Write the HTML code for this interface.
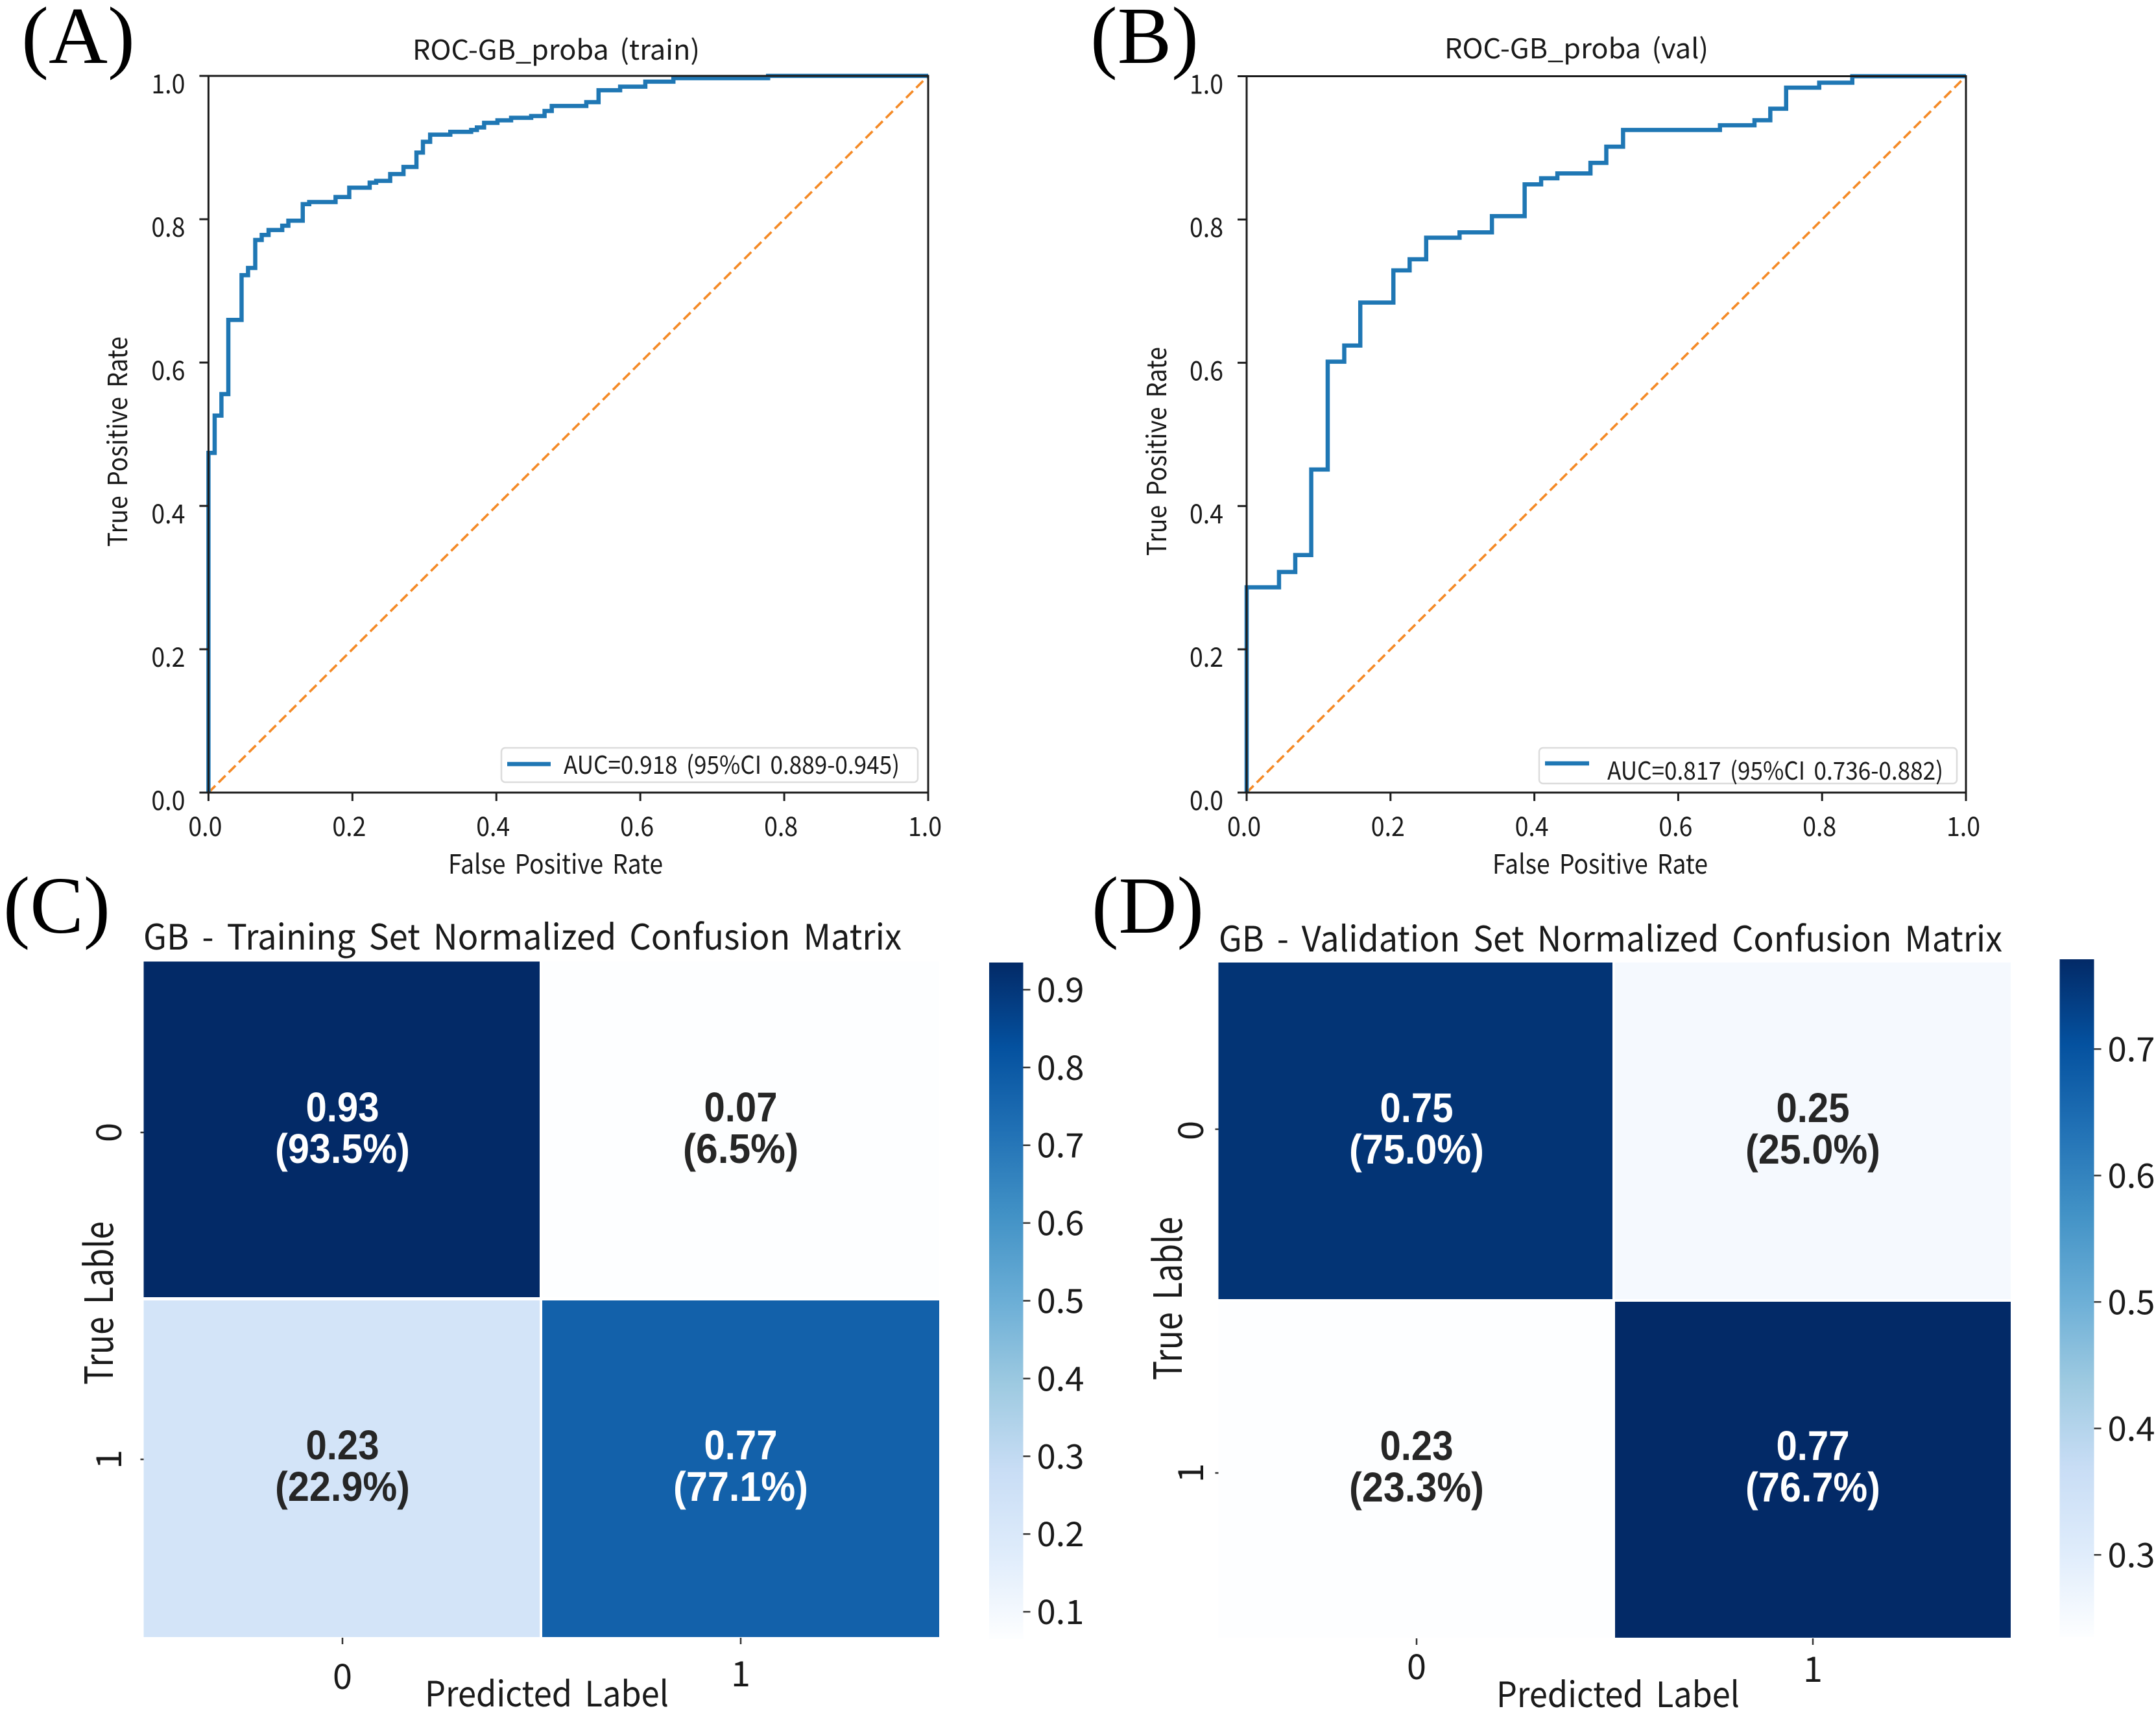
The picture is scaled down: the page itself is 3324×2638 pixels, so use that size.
<!DOCTYPE html>
<html lang="en">
<head>
<meta charset="utf-8">
<title>GB ROC curves and confusion matrices</title>
<style>
html,body{margin:0;padding:0;background:#fff;}
body{width:3324px;height:2638px;overflow:hidden;}
svg{display:block;}
text{font-family:"Noto Sans CJK KR","Liberation Sans",sans-serif;fill:#1a1a1a;word-spacing:.16em;}
.panel{font-family:"Liberation Serif",serif;font-size:125px;fill:#000;}
.bold{font-family:"Liberation Sans",sans-serif;font-weight:bold;}
</style>
</head>
<body>
<svg id="figure" xmlns="http://www.w3.org/2000/svg" width="3324" height="2638" viewBox="0 0 3324 2638">
  <defs>
    <linearGradient id="cbar-grad-c" x1="0" y1="0" x2="0" y2="1"></linearGradient>
    <linearGradient id="cbar-grad-d" x1="0" y1="0" x2="0" y2="1"></linearGradient>
  </defs>
  <rect width="3324" height="2638" fill="#fff" style="fill:#fff"/>

  <g id="panel-a">
    <text class="panel" x="33" y="97" textLength="175" lengthAdjust="spacingAndGlyphs">(A)</text>
    <text x="636" y="92" font-size="42" textLength="443" lengthAdjust="spacingAndGlyphs">ROC-GB_proba (train)</text>
    <text x="691" y="1347" font-size="41" textLength="331" lengthAdjust="spacingAndGlyphs">False Positive Rate</text>
    <text transform="translate(196 843) rotate(-90)" font-size="41" textLength="324" lengthAdjust="spacingAndGlyphs">True Positive Rate</text>
    <g id="plot-a"></g>
    <rect x="773" y="1153" width="642" height="53" rx="6" fill="#fff" stroke="#dcdcdc" stroke-width="2.5"/>
    <line x1="782" y1="1178" x2="849" y2="1178" stroke="#1f77b4" stroke-width="6.5"/>
    <text x="869" y="1193" font-size="38" textLength="518" lengthAdjust="spacingAndGlyphs">AUC=0.918 (95%CI 0.889-0.945)</text>
  </g>

  <g id="panel-b">
    <text class="panel" x="1681" y="97" textLength="167" lengthAdjust="spacingAndGlyphs">(B)</text>
    <text x="2227" y="90" font-size="42" textLength="407" lengthAdjust="spacingAndGlyphs">ROC-GB_proba (val)</text>
    <text x="2301" y="1347" font-size="41" textLength="332" lengthAdjust="spacingAndGlyphs">False Positive Rate</text>
    <text transform="translate(1798 857) rotate(-90)" font-size="41" textLength="322" lengthAdjust="spacingAndGlyphs">True Positive Rate</text>
    <g id="plot-b"></g>
    <rect x="2373" y="1153" width="644" height="55" rx="6" fill="#fff" stroke="#dcdcdc" stroke-width="2.5"/>
    <line x1="2382" y1="1177" x2="2450" y2="1177" stroke="#1f77b4" stroke-width="6.5"/>
    <text x="2478" y="1202" font-size="38" textLength="518" lengthAdjust="spacingAndGlyphs">AUC=0.817 (95%CI 0.736-0.882)</text>
  </g>

  <g id="panel-c">
    <text class="panel" x="5" y="1438" textLength="165" lengthAdjust="spacingAndGlyphs">(C)</text>
    <text x="221" y="1464" font-size="54" textLength="1169" lengthAdjust="spacingAndGlyphs">GB - Training Set Normalized Confusion Matrix</text>
    <text transform="translate(174 2135) rotate(-90)" font-size="60" textLength="252" lengthAdjust="spacingAndGlyphs">True Lable</text>
    <text x="655" y="2631" font-size="54" textLength="376" lengthAdjust="spacingAndGlyphs">Predicted Label</text>
    <g id="plot-c"></g>
  </g>

  <g id="panel-d">
    <text class="panel" x="1683" y="1438" textLength="173" lengthAdjust="spacingAndGlyphs">(D)</text>
    <text x="1879" y="1467" font-size="54" textLength="1208" lengthAdjust="spacingAndGlyphs">GB - Validation Set Normalized Confusion Matrix</text>
    <text transform="translate(1822 2128) rotate(-90)" font-size="60" textLength="252" lengthAdjust="spacingAndGlyphs">True Lable</text>
    <text x="2307" y="2632" font-size="54" textLength="375" lengthAdjust="spacingAndGlyphs">Predicted Label</text>
    <g id="plot-d"></g>
  </g>
</svg>

<script>
// ---- chart data ----
const rocTicks = ['0.0', '0.2', '0.4', '0.6', '0.8', '1.0'];
const diagonalValues = [0, 1];

const trainFpr = [0, 0, 0.0086, 0.018, 0.0276, 0.046, 0.055, 0.065, 0.074, 0.0835, 0.1025, 0.111, 0.131, 0.14, 0.1766, 0.1956, 0.224, 0.233, 0.2525, 0.271, 0.289, 0.298, 0.308, 0.336, 0.365, 0.373, 0.383, 0.4015, 0.4205, 0.4484, 0.467, 0.477, 0.525, 0.542, 0.572, 0.607, 0.646, 0.7776, 1];
const trainTpr = [0, 0.474, 0.526, 0.556, 0.6595, 0.722, 0.732, 0.771, 0.778, 0.785, 0.791, 0.798, 0.821, 0.824, 0.831, 0.844, 0.851, 0.8535, 0.863, 0.873, 0.893, 0.908, 0.918, 0.922, 0.9245, 0.928, 0.9345, 0.938, 0.9415, 0.944, 0.951, 0.958, 0.9634, 0.98, 0.985, 0.992, 0.9968, 1, 1];

const valFpr = [0, 0, 0.045, 0.0676, 0.0898, 0.1127, 0.1357, 0.158, 0.204, 0.2266, 0.2496, 0.296, 0.341, 0.3865, 0.4094, 0.432, 0.478, 0.5, 0.5233, 0.658, 0.706, 0.728, 0.75, 0.796, 0.842, 1];
const valTpr = [0, 0.2865, 0.308, 0.3316, 0.451, 0.6015, 0.624, 0.684, 0.729, 0.7445, 0.7746, 0.782, 0.8047, 0.849, 0.8575, 0.8643, 0.879, 0.9016, 0.925, 0.9315, 0.9386, 0.9546, 0.984, 0.991, 1, 1];

const matrixClasses = ['0', '1'];
const trainMatrix = [[0.934, 0.066], [0.229, 0.771]];
const trainPercents = [['93.5', '6.5'], ['22.9', '77.1']];
const valMatrix = [[0.75, 0.25], [0.233, 0.767]];
const valPercents = [['75.0', '25.0'], ['23.3', '76.7']];
const trainBarTicks = [0.9, 0.8, 0.7, 0.6, 0.5, 0.4, 0.3, 0.2, 0.1];
const valBarTicks = [0.7, 0.6, 0.5, 0.4, 0.3];
const trainBarDomain = [0.065, 0.935];
const valBarDomain = [0.235, 0.771];
const bluesPalette = ['#fdfeff', '#dfecfb', '#c8ddf5', '#9ecae1', '#6baed6', '#4292c6', '#2171b5', '#04519f', '#032a67'];

// ---- helpers ----
const NS = 'http://www.w3.org/2000/svg';
function make(tag, parent, props) {
  const node = document.createElementNS(NS, tag);
  for (const key in props) node.setAttribute(key, props[key]);
  parent.appendChild(node);
  return node;
}
function hexToRgb(h) {
  return [parseInt(h.slice(1, 3), 16), parseInt(h.slice(3, 5), 16), parseInt(h.slice(5, 7), 16)];
}
function blues(t) {
  const c = Math.max(0, Math.min(1, t)) * (bluesPalette.length - 1);
  const i = Math.min(bluesPalette.length - 2, Math.floor(c));
  const a = hexToRgb(bluesPalette[i]);
  const b = hexToRgb(bluesPalette[i + 1]);
  const f = c - i;
  return 'rgb(' + a.map((v, k) => Math.round(v + (b[k] - v) * f)).join(',') + ')';
}

// ---- ROC panel ----
function drawRoc(host, box, fpr, tpr, xOff, curveName) {
  const sx = v => box.left + v * (box.right - box.left);
  const sy = v => box.bottom - v * (box.bottom - box.top);

  const diag = make('line', host, {x1: sx(diagonalValues[0]), y1: sy(diagonalValues[0]), x2: sx(diagonalValues[1]), y2: sy(diagonalValues[1]), stroke: '#f58a26', 'stroke-width': 3.6, 'stroke-dasharray': '15 7'});
  
  

  let d = 'M' + sx(fpr[0]) + ' ' + sy(tpr[0]);
  for (let i = 1; i < fpr.length; i++) {
    d += 'L' + sx(fpr[i]) + ' ' + sy(tpr[i - 1]) + 'L' + sx(fpr[i]) + ' ' + sy(tpr[i]);
  }
  const curve = make('path', host, {d: d, fill: 'none', stroke: '#1f77b4', 'stroke-width': 6.5, 'stroke-linejoin': 'miter'});
  
  

  const frame = make('rect', host, {x: box.left, y: box.top, width: box.right - box.left, height: box.bottom - box.top, fill: 'none', stroke: '#1c1c1c', 'stroke-width': 3});
  
  

  rocTicks.forEach(label => {
    const v = parseFloat(label);
    const xt = make('line', host, {x1: sx(v), x2: sx(v), y1: box.bottom, y2: box.bottom + 13, stroke: '#1c1c1c', 'stroke-width': 3});
    
    
    const xl = make('text', host, {x: sx(v) + xOff - 26, y: 1289, 'font-size': 41, textLength: 52, lengthAdjust: 'spacingAndGlyphs'});
    xl.textContent = label;
    
    
    const yt = make('line', host, {x1: box.left - 14, x2: box.left, y1: sy(v), y2: sy(v), stroke: '#1c1c1c', 'stroke-width': 3});
    
    
    const yl = make('text', host, {x: box.left - 36 - 52, y: sy(v) + 27, 'font-size': 41, textLength: 52, lengthAdjust: 'spacingAndGlyphs'});
    yl.textContent = label;
    
    
  });
}

// ---- confusion matrix panel ----
function drawMatrix(host, geo, matrix, percents, barTicks, barDomain, gradId) {
  const flat = matrix[0].concat(matrix[1]);
  const vmin = Math.min.apply(null, flat);
  const vmax = Math.max.apply(null, flat);
  const norm = v => (v - vmin) / (vmax - vmin);
  const colX = [geo.left, geo.midX, geo.right];
  const rowY = [geo.top, geo.midY, geo.bottom];

  matrix.forEach((row, r) => {
    row.forEach((value, c) => {
      const cell = make('rect', host, {x: colX[c], y: rowY[r], width: colX[c + 1] - colX[c] - (c === 0 ? geo.gapX : 0), height: rowY[r + 1] - rowY[r] - (r === 0 ? geo.gapY : 0), fill: blues(norm(value))});
      
      
      const colour = norm(value) > 0.5 ? '#ffffff' : '#262626';
      const cx = geo.textX[c];
      const top = make('text', host, {class: 'bold', x: cx, y: geo.textY[r] + 43, 'font-size': 64, 'text-anchor': 'middle', textLength: 113, lengthAdjust: 'spacingAndGlyphs', style: 'fill:' + colour});
      top.textContent = value.toFixed(2);
      
      
      const pctText = '(' + percents[r][c] + '%)';
      const pct = make('text', host, {class: 'bold', x: cx, y: geo.textY[r] + 107, 'font-size': 64, 'text-anchor': 'middle', textLength: pctText.length * 29.7, lengthAdjust: 'spacingAndGlyphs', style: 'fill:' + colour});
      pct.textContent = pctText;
      
      
    });
  });

  matrixClasses.forEach((label, i) => {
    const xt = make('line', host, {x1: geo.textX[i], x2: geo.textX[i], y1: geo.bottom + 1, y2: geo.bottom + 11, stroke: '#333', 'stroke-width': 2.5});
    
    
    const xl = make('text', host, {x: geo.textX[i], y: geo.xLabelY[i] + 20, 'font-size': 54, 'text-anchor': 'middle'});
    xl.textContent = label;
    
    
    const yt = make('line', host, {x1: geo.left - 5, x2: geo.left, y1: geo.yTickY[i], y2: geo.yTickY[i], stroke: '#333', 'stroke-width': 2.5});
    
    
    const yl = make('text', host, {transform: 'translate(' + (geo.yLabelX + 20) + ' ' + geo.yLabelY[i] + ') rotate(-90)', 'font-size': 54, 'text-anchor': 'middle'});
    yl.textContent = label;
    
    
  });

  const grad = document.getElementById(gradId);
  for (let k = 0; k < bluesPalette.length; k++) {
    make('stop', grad, {offset: k / (bluesPalette.length - 1), 'stop-color': bluesPalette[bluesPalette.length - 1 - k]});
  }
  const bar = make('rect', host, {x: geo.barLeft, y: geo.barTop, width: geo.barRight - geo.barLeft, height: geo.barBottom - geo.barTop, fill: 'url(#' + gradId + ')'});
  
  

  const barY = v => geo.barBottom - (v - barDomain[0]) / (barDomain[1] - barDomain[0]) * (geo.barBottom - geo.barTop);
  barTicks.forEach(v => {
    const mark = make('line', host, {x1: geo.barRight, x2: geo.barRight + 11, y1: barY(v), y2: barY(v), stroke: '#333', 'stroke-width': 2.5});
    
    
    const lab = make('text', host, {x: geo.barRight + 21, y: barY(v) + 19, 'font-size': 52, textLength: 73, lengthAdjust: 'spacingAndGlyphs'});
    lab.textContent = v.toFixed(1);
    
    
  });
}

drawRoc(document.getElementById('plot-a'), {left: 321.4, right: 1431, top: 117, bottom: 1222}, trainFpr, trainTpr, -5, 'roc-curve-train');
drawRoc(document.getElementById('plot-b'), {left: 1922, right: 3031, top: 117.5, bottom: 1222}, valFpr, valTpr, -4, 'roc-curve-validation');

drawMatrix(document.getElementById('plot-c'), {
  left: 221.5, midX: 836, right: 1448, top: 1482.5, midY: 2005, bottom: 2524, gapX: 4, gapY: 5,
  textX: [528, 1142], textY: [1686, 2207], xLabelY: [2584, 2580], yTickY: [1746, 2250],
  yLabelX: 167, yLabelY: [1746, 2250],
  barLeft: 1525, barRight: 1577.5, barTop: 1484, barBottom: 2527
}, trainMatrix, trainPercents, trainBarTicks, trainBarDomain, 'cbar-grad-c');

drawMatrix(document.getElementById('plot-d'), {
  left: 1878.5, midX: 2490, right: 3100, top: 1484, midY: 2007, bottom: 2525, gapX: 4, gapY: 4,
  textX: [2184, 2795], textY: [1687, 2208], xLabelY: [2569, 2573], yTickY: [1741, 2271],
  yLabelX: 1835, yLabelY: [1743, 2271],
  barLeft: 3175.5, barRight: 3228.5, barTop: 1479, barBottom: 2524
}, valMatrix, valPercents, valBarTicks, valBarDomain, 'cbar-grad-d');
</script>
</body>
</html>
